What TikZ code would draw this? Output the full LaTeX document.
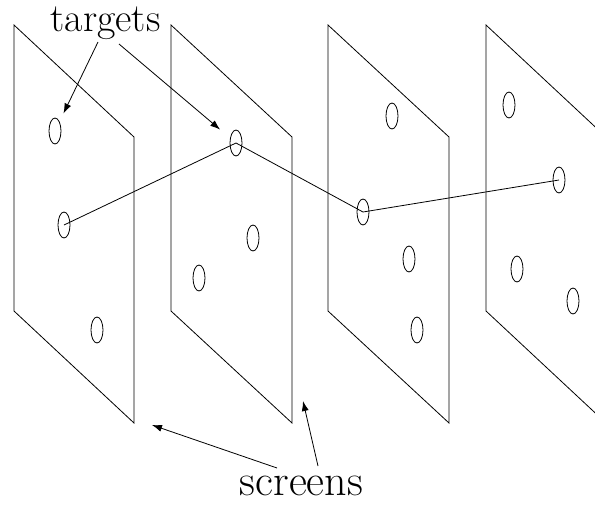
\documentclass[tikz,border=0pt]{standalone}
\usetikzlibrary{arrows.meta, shapes.geometric}

\begin{document}
\begin{tikzpicture}[
    x=1pt, y=-1pt,
    % Styles for screens, targets and arrows
    screen/.style={draw, line width=0.8pt, line join=miter},
    target/.style={draw, ellipse, minimum width=12pt, minimum height=26pt, inner sep=0pt, line width=0.8pt},
    track/.style={line width=0.8pt},
    connector/.style={-{Latex[length=10pt, width=7pt]}, line width=0.8pt},
    label/.style={inner sep=0pt, anchor=base}
]
    \useasboundingbox (0,0) rectangle (595,504);
    \clip (0,0) rectangle (595,504);

    % --- SCREENS ---
    % Starting from left to right
    \draw [screen] (14,311) -- (14,25) -- (134,137) -- (134,423) -- cycle;
    \draw [screen] (171,311) -- (171,25) -- (292,137) -- (292,423) -- cycle;
    \draw [screen] (328,311) -- (328,25) -- (449,137) -- (449,423) -- cycle;
    \draw [screen] (486,311) -- (486,25) -- (606,137) -- (606,423) -- cycle;

    % --- TARGETS ---
    \node [target] (t1a) at (55,131) {};
    \node [target] (t1b) at (64,225) {};
    \node [target] (t1c) at (97,330) {};
    \node [target] (t2a) at (236,143) {};
    \node [target] (t2b) at (253,238) {};
    \node [target] (t2c) at (199,278) {};
    \node [target] (t3a) at (392,116) {};
    \node [target] (t3b) at (363,212) {};
    \node [target] (t3c) at (409,259) {};
    \node [target] (t3d) at (417,330) {};
    \node [target] (t4a) at (509,105) {};
    \node [target] (t4b) at (559,180) {};
    \node [target] (t4c) at (517,269) {};
    \node [target] (t4d) at (573,301) {};

    % --- LABELS ---
    \node [label, font=\fontsize{40}{42}\selectfont] (tgtlbl) at (105.5,31) {targets};
    \node [label, font=\fontsize{44}{46}\selectfont] (scrlbl) at (301.5,495) {screens};

    % Arrow ends
    \coordinate (tgt1) at (98,42);
    \coordinate (tgt2) at (119,44);
    \coordinate (scr1) at (277,468);
    \coordinate (scr2) at (318,466);
    \coordinate (gap1) at (152,425);
    \coordinate (gap2) at (303,401);

    % --- CONNECTIONS ---
    % Track through the screens
    \draw [track] (t1b.center) -- (t2a.center) -- (t3b.center) -- (t4b.center);

    % Label arrows
    \draw [connector, shorten >=9pt] (tgt1) -- (t1a);
    \draw [connector, shorten >=13pt] (tgt2) -- (t2a);
    \draw [connector] (scr1) -- (gap1);
    \draw [connector] (scr2) -- (gap2);

\end{tikzpicture}
\end{document}
